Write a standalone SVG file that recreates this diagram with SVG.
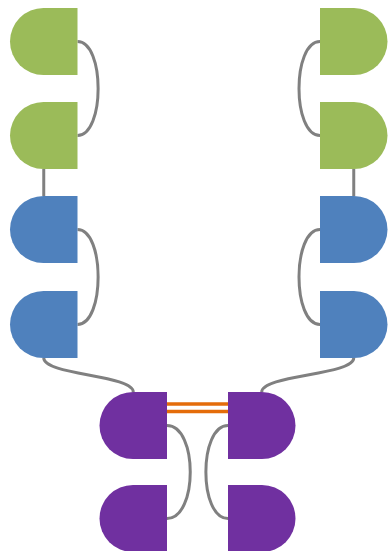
<svg xmlns="http://www.w3.org/2000/svg" xmlns:xlink="http://www.w3.org/1999/xlink" width="388" height="551" viewBox="0 0 388 551">
  <style>
    .green { fill: #9BBB59; }
    .blue { fill: #4F81BD; }
    .purple { fill: #7030A0; }
    .conn { fill: none; stroke: #808080; stroke-width: 3; }
    .link { fill: none; stroke: #E46C0A; stroke-width: 3.5; }
  </style>
  <defs>
    <path id="dl" d="M67.5,0 H33.5 A33.5,33.5 0 0 0 33.5,67 H67.5 Z"/>
    <path id="dr" d="M0,0 H34 A33.5,33.5 0 0 1 34,67 H0 Z"/>
  </defs>
  <g id="connectors">
    <path class="conn" d="M77.5,41.5 C105,41.5 105,135.5 77.5,135.5"/>
    <path class="conn" d="M43.75,169 V196"/>
    <path class="conn" d="M77.5,229.5 C105,229.5 105,324.5 77.5,324.5"/>
    <path class="conn" d="M43.75,358 C43.75,375 133.25,375 133.25,392"/>
    <path class="conn" d="M320,41.5 C292,41.5 292,135.5 320,135.5"/>
    <path class="conn" d="M353.75,169 V196"/>
    <path class="conn" d="M320,229.5 C292,229.5 292,324.5 320,324.5"/>
    <path class="conn" d="M353.75,358 C353.75,375 261.75,375 261.75,392"/>
    <path class="conn" d="M167,425.5 C198,425.5 198,518.5 167,518.5"/>
    <path class="conn" d="M228,425.5 C198.5,425.5 198.5,518.5 228,518.5"/>
    <path class="link" d="M167,404 H228 M167,411.5 H228"/>
  </g>
  <g id="n-l1"><use xlink:href="#dl" class="green" transform="translate(10,8)"/></g>
  <g id="n-l2"><use xlink:href="#dl" class="green" transform="translate(10,102)"/></g>
  <g id="n-l3"><use xlink:href="#dl" class="blue" transform="translate(10,196)"/></g>
  <g id="n-l4"><use xlink:href="#dl" class="blue" transform="translate(10,291)"/></g>
  <g id="n-r1"><use xlink:href="#dr" class="green" transform="translate(320,8)"/></g>
  <g id="n-r2"><use xlink:href="#dr" class="green" transform="translate(320,102)"/></g>
  <g id="n-r3"><use xlink:href="#dr" class="blue" transform="translate(320,196)"/></g>
  <g id="n-r4"><use xlink:href="#dr" class="blue" transform="translate(320,291)"/></g>
  <g id="n-pl1"><use xlink:href="#dl" class="purple" transform="translate(99.5,392)"/></g>
  <g id="n-pl2"><use xlink:href="#dl" class="purple" transform="translate(99.5,485)"/></g>
  <g id="n-pr1"><use xlink:href="#dr" class="purple" transform="translate(228,392)"/></g>
  <g id="n-pr2"><use xlink:href="#dr" class="purple" transform="translate(228,485)"/></g>
</svg>
